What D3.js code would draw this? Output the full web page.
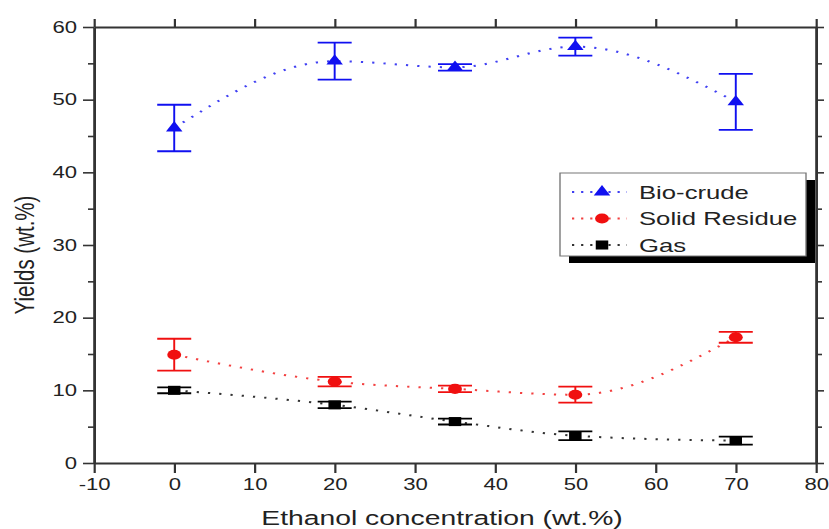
<!DOCTYPE html>
<html>
<head>
<meta charset="utf-8">
<script src="https://cdn.jsdelivr.net/npm/d3@7"></script>
<style>
  body { margin: 0; background: #fff; }
  svg { display: block; }
  text { font-family: "Liberation Sans", Arial, sans-serif; fill: #222; }
</style>
</head>
<body>
<script>
// data
var concentration = [0, 20, 35, 50, 70];
var bioCrude = [46.1, 55.3, 54.45, 57.3, 49.7];
var bioCrudeErr = [3.2, 2.55, 0.45, 1.25, 3.85];
var solidResidue = [14.9, 11.2, 10.2, 9.4, 17.3];
var solidResidueErr = [2.2, 0.65, 0.45, 1.1, 0.75];
var gas = [10.0, 8.0, 5.7, 3.75, 3.07];
var gasErr = [0.4, 0.45, 0.4, 0.6, 0.55];

var xTicks = [-10, 0, 10, 20, 30, 40, 50, 60, 70, 80];
var yTicks = [0, 10, 20, 30, 40, 50, 60];
var yMinor = [5, 15, 25, 35, 45, 55];

var seriesNames = ['Bio-crude', 'Solid Residue', 'Gas'];

// the original picture is stretched horizontally, so draw in a narrower
// space and let the viewBox stretch it
var SX = 1.38;
var width = 829, height = 529;
var W = width / SX;

var x = d3.scaleLinear().domain([-10, 80]).range([94 / SX, 816 / SX]);
var y = d3.scaleLinear().domain([0, 60]).range([463, 27]);

var series = [
  {name: seriesNames[0], values: bioCrude, err: bioCrudeErr, color: '#1010f0', symbol: d3.symbolTriangle, size: 62},
  {name: seriesNames[1], values: solidResidue, err: solidResidueErr, color: '#f01010', symbol: d3.symbolCircle, size: 80},
  {name: seriesNames[2], values: gas, err: gasErr, color: '#000000', symbol: d3.symbolSquare, size: 82}
];

var svg = d3.select('body')
  .append('svg')
  .attr('width', width)
  .attr('height', height)
  .attr('viewBox', '0 0 ' + W + ' ' + height)
  .attr('preserveAspectRatio', 'none');

// plain hyphen for negatives, like the original
var plain = function (d) { return String(d); };

// axes
function styleAxis(g) {
  g.selectAll('path.domain').attr('stroke', '#333').attr('stroke-width', 1.8);
  g.selectAll('.tick line').attr('stroke', '#333').attr('stroke-width', 1.6);
  g.selectAll('text').attr('font-size', 16).attr('fill', '#222')
    .attr('font-family', '"Liberation Sans", Arial, sans-serif');
}

svg.append('g')
  .attr('transform', 'translate(0,' + y(0) + ')')
  .call(d3.axisBottom(x).tickValues(xTicks).tickSize(10).tickSizeOuter(0).tickPadding(6).tickFormat(plain))
  .call(styleAxis);

svg.append('g')
  .attr('transform', 'translate(0,' + y(60) + ')')
  .call(d3.axisTop(x).tickValues(xTicks).tickSize(8).tickSizeOuter(0).tickFormat(''))
  .call(styleAxis);

svg.append('g')
  .attr('transform', 'translate(' + x(-10) + ',0)')
  .call(d3.axisLeft(y).tickValues(yTicks).tickSize(11 / SX).tickSizeOuter(0).tickPadding(6 / SX).tickFormat(plain))
  .call(styleAxis);

svg.append('g')
  .attr('transform', 'translate(' + x(-10) + ',0)')
  .call(d3.axisLeft(y).tickValues(yMinor).tickSize(6 / SX).tickSizeOuter(0).tickFormat(''))
  .call(styleAxis);

svg.append('g')
  .attr('transform', 'translate(' + x(80) + ',0)')
  .call(d3.axisRight(y).tickValues(yTicks).tickSize(8 / SX).tickSizeOuter(0).tickFormat(''))
  .call(styleAxis);

svg.append('g')
  .attr('transform', 'translate(' + x(80) + ',0)')
  .call(d3.axisRight(y).tickValues(yMinor).tickSize(6 / SX).tickSizeOuter(0).tickFormat(''))
  .call(styleAxis);

// axis titles
svg.append('text')
  .attr('x', 442 / SX)
  .attr('y', 525)
  .attr('text-anchor', 'middle')
  .attr('font-size', 20.5)
  .text('Ethanol concentration (wt.%)');

svg.append('text')
  .attr('transform', 'translate(' + (34 / SX) + ',255)rotate(-90)')
  .attr('text-anchor', 'middle')
  .attr('font-size', 20.5)
  .text('Yields (wt.%)');

// dotted spline lines
var line = d3.line()
  .x(function (d) { return x(d[0]); })
  .y(function (d) { return y(d[1]); })
  .curve(d3.curveMonotoneX);

series.forEach(function (s) {
  var pts = concentration.map(function (c, i) { return [c, s.values[i]]; });

  svg.append('path')
    .datum(pts)
    .attr('d', line)
    .attr('fill', 'none')
    .attr('stroke', s.color)
    .attr('stroke-width', 2)
    .attr('stroke-dasharray', '1.6,6.6')
    .attr('opacity', 0.8);

  var cap = 17 / SX;
  var eb = svg.append('g').attr('stroke', s.color).attr('stroke-width', 1.8);
  concentration.forEach(function (c, i) {
    var hi = y(s.values[i] + s.err[i]), lo = y(s.values[i] - s.err[i]);
    eb.append('line').attr('x1', x(c)).attr('x2', x(c)).attr('y1', hi).attr('y2', lo).attr('stroke-width', 1.4);
    eb.append('line').attr('x1', x(c) - cap).attr('x2', x(c) + cap).attr('y1', hi).attr('y2', hi);
    eb.append('line').attr('x1', x(c) - cap).attr('x2', x(c) + cap).attr('y1', lo).attr('y2', lo);
  });

  svg.append('g').selectAll('path')
    .data(pts)
    .enter()
    .append('path')
      .attr('transform', function (d) { return 'translate(' + x(d[0]) + ',' + y(d[1]) + ')'; })
      .attr('d', d3.symbol().type(s.symbol).size(s.size))
      .attr('fill', s.color);
});

// legend with drop shadow
var lg = svg.append('g');
lg.append('rect')
  .attr('x', 569 / SX).attr('y', 180)
  .attr('width', 246 / SX).attr('height', 83)
  .attr('fill', '#000');
lg.append('rect')
  .attr('x', 560 / SX).attr('y', 173)
  .attr('width', 246 / SX).attr('height', 83)
  .attr('fill', '#fff')
  .attr('stroke', '#777')
  .attr('stroke-width', 1);

series.forEach(function (s, i) {
  var cy = 192 + i * 26.5;
  lg.append('line')
    .attr('x1', 572 / SX).attr('x2', 627 / SX)
    .attr('y1', cy).attr('y2', cy)
    .attr('stroke', s.color)
    .attr('stroke-width', 2)
    .attr('stroke-dasharray', '1.6,5')
    .attr('opacity', 0.8);
  lg.append('path')
    .attr('transform', 'translate(' + (602 / SX) + ',' + cy + ')')
    .attr('d', d3.symbol().type(s.symbol).size(s.size))
    .attr('fill', s.color);
  lg.append('text')
    .attr('x', 639 / SX)
    .attr('y', cy + 7)
    .attr('font-size', 18.6)
    .text(s.name);
});
</script>
</body>
</html>
